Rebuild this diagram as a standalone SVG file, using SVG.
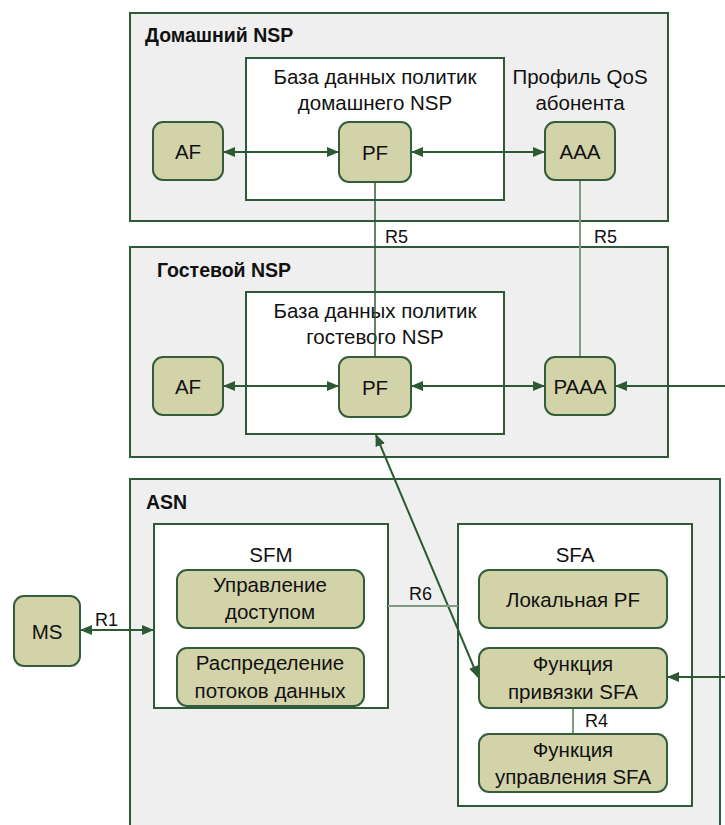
<svg xmlns="http://www.w3.org/2000/svg" width="725" height="825" viewBox="0 0 725 825">
<style>
.area{fill:#efefef;stroke:#2f5a37;stroke-width:2}
.inner{fill:#ffffff;stroke:#2f5a37;stroke-width:2}
.node{fill:#d3d3aa;stroke:#345e3b;stroke-width:2}
.t{font-family:"Liberation Sans",Arial,sans-serif;font-size:20.5px;fill:#111;text-anchor:middle}
.title{font-family:"Liberation Sans",Arial,sans-serif;font-size:19.5px;font-weight:bold;fill:#111}
.lbl{font-family:"Liberation Sans",Arial,sans-serif;font-size:18px;fill:#111}
.arr{stroke:#2d5a34;stroke-width:2;fill:none}
.ln{stroke:#2d5a34;stroke-width:1.5;fill:none}
.lt{stroke:#7f9a83;stroke-width:2;fill:none}
</style>
<defs>
<marker id="ah" markerUnits="userSpaceOnUse" markerWidth="12" markerHeight="10" refX="11" refY="5" orient="auto-start-reverse">
<path d="M0,0 L12,5 L0,10 Z" fill="#2d5a34"/>
</marker>
</defs>

<g id="home-nsp">
<rect class="area" x="130" y="13" width="538" height="208"/>
<text class="title" x="145" y="42">Домашний NSP</text>
</g>
<g id="home-db">
<rect class="inner" x="246" y="58" width="258" height="142"/>
<text class="t" x="375" y="84">База данных политик</text>
<text class="t" x="375" y="110">домашнего NSP</text>
</g>
<g id="home-qos-label">
<text class="t" x="580" y="84">Профиль QoS</text>
<text class="t" x="580" y="110">абонента</text>
</g>

<g id="guest-nsp">
<rect class="area" x="130" y="247" width="538" height="210"/>
<text class="title" x="157" y="277">Гостевой NSP</text>
</g>
<g id="guest-db">
<rect class="inner" x="246" y="292" width="258" height="142"/>
<text class="t" x="375" y="318">База данных политик</text>
<text class="t" x="375" y="344">гостевого NSP</text>
</g>

<g id="asn">
<rect class="area" x="130" y="479" width="590" height="360"/>
<text class="title" x="146" y="509">ASN</text>
</g>
<g id="sfm">
<rect class="inner" x="154" y="524" width="234" height="184"/>
<text class="t" x="271" y="562">SFM</text>
</g>
<g id="sfa">
<rect class="inner" x="458" y="524" width="234" height="282"/>
<text class="t" x="575" y="562">SFA</text>
</g>

<g id="connectors">
<line class="ln" x1="375" y1="182" x2="375" y2="358"/>
<line class="lt" x1="580" y1="180" x2="580" y2="358"/>
<text class="lbl" x="385" y="243">R5</text>
<text class="lbl" x="594" y="243">R5</text>
<line class="arr" x1="224" y1="152" x2="338" y2="152" marker-start="url(#ah)" marker-end="url(#ah)"/>
<line class="arr" x1="412" y1="152" x2="544" y2="152" marker-start="url(#ah)" marker-end="url(#ah)"/>
<line class="arr" x1="224" y1="386" x2="338" y2="386" marker-start="url(#ah)" marker-end="url(#ah)"/>
<line class="arr" x1="412" y1="386" x2="544" y2="386" marker-start="url(#ah)" marker-end="url(#ah)"/>
<line class="arr" x1="725" y1="386" x2="616" y2="386" marker-end="url(#ah)"/>
<line class="arr" x1="376" y1="435" x2="478" y2="677" marker-start="url(#ah)" marker-end="url(#ah)"/>
<line class="arr" x1="81" y1="630" x2="153" y2="630" marker-start="url(#ah)" marker-end="url(#ah)"/>
<text class="lbl" x="95" y="626">R1</text>
<line class="lt" x1="388" y1="606" x2="458" y2="606"/>
<text class="lbl" x="409" y="600">R6</text>
<line class="lt" x1="573" y1="708" x2="573" y2="734"/>
<text class="lbl" x="585" y="727">R4</text>
<line class="arr" x1="725" y1="677" x2="668" y2="677" marker-end="url(#ah)"/>
</g>

<g id="home-af"><rect class="node" x="153" y="122" width="70" height="58" rx="10"/><text class="t" x="188" y="159">AF</text></g>
<g id="home-pf"><rect class="node" x="339" y="122" width="72" height="60" rx="10"/><text class="t" x="375" y="160">PF</text></g>
<g id="home-aaa"><rect class="node" x="545" y="122" width="70" height="58" rx="10"/><text class="t" x="580" y="159">AAA</text></g>

<g id="guest-af"><rect class="node" x="153" y="357" width="70" height="58" rx="10"/><text class="t" x="188" y="394">AF</text></g>
<g id="guest-pf"><rect class="node" x="339" y="357" width="72" height="60" rx="10"/><text class="t" x="375" y="395">PF</text></g>
<g id="guest-paaa"><rect class="node" x="545" y="357" width="70" height="58" rx="10"/><text class="t" x="580" y="394">PAAA</text></g>

<g id="ms"><rect class="node" x="14" y="596" width="66" height="70" rx="10"/><text class="t" x="47" y="639">MS</text></g>
<g id="access-control"><rect class="node" x="177" y="570" width="187" height="58" rx="10"/><text class="t" x="270" y="592">Управление</text><text class="t" x="270" y="619">доступом</text></g>
<g id="flow-distribution"><rect class="node" x="177" y="648" width="187" height="58" rx="10"/><text class="t" x="270" y="670">Распределение</text><text class="t" x="270" y="698">потоков данных</text></g>
<g id="local-pf"><rect class="node" x="479" y="570" width="188" height="58" rx="10"/><text class="t" x="573" y="607">Локальная PF</text></g>
<g id="sfa-anchor"><rect class="node" x="479" y="648" width="188" height="60" rx="10"/><text class="t" x="573" y="671">Функция</text><text class="t" x="573" y="699">привязки SFA</text></g>
<g id="sfa-control"><rect class="node" x="479" y="734" width="188" height="58" rx="10"/><text class="t" x="573" y="757">Функция</text><text class="t" x="573" y="784">управления SFA</text></g>
</svg>
